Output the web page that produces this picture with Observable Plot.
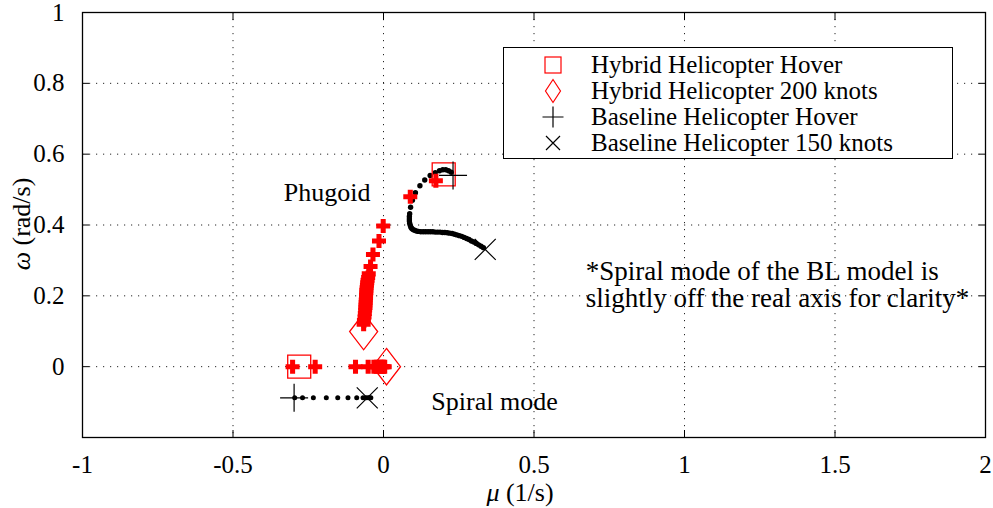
<!DOCTYPE html>
<html><head><meta charset="utf-8">
<script src="https://cdn.jsdelivr.net/npm/d3@7"></script>
<script src="https://cdn.jsdelivr.net/npm/@observablehq/plot@0.6"></script>
</head><body style="margin:0;background:#fff;">
<div id="wrap" style="position:relative;width:993px;height:508px;color:#000;font-family:'Liberation Serif';font-size:22px;"></div>
<script>
// ---- ticks ----
const xTicks = [-1, -0.5, 0, 0.5, 1, 1.5, 2];
const yTicks = [0, 0.2, 0.4, 0.6, 0.8, 1];
const xGrid = [-0.5, 0, 0.5, 1, 1.5];
const yGrid = [0, 0.2, 0.4, 0.6, 0.8];

// ---- hybrid helicopter root locus (red plus) [mu, omega] ----
const hybridPhugoid = [[0.174,0.525],[0.089,0.480],[-0.001,0.397],[-0.015,0.355],[-0.035,0.317],[-0.043,0.283],[-0.049,0.262],[-0.051,0.252],[-0.053,0.244],[-0.054,0.237],[-0.055,0.230],[-0.056,0.223],[-0.057,0.216],[-0.057,0.209],[-0.058,0.202],[-0.058,0.195],[-0.059,0.188],[-0.059,0.181],[-0.060,0.174],[-0.060,0.167],[-0.061,0.160],[-0.062,0.150],[-0.063,0.140],[-0.065,0.130],[-0.066,0.120]];
const hybridSpiral = [[-0.302,0],[-0.227,0],[-0.093,0],[-0.051,0],[-0.032,0],[-0.024,0],[-0.017,0],[-0.011,0],[-0.005,0],[0.000,0],[0.004,0]];

// ---- baseline helicopter root locus (black dots) ----
const baselinePhugoid = [[0.225,0.549],[0.216,0.553],[0.207,0.556],[0.197,0.556],[0.186,0.553],[0.172,0.548],[0.155,0.540],[0.137,0.527],[0.121,0.511],[0.106,0.491],[0.096,0.470],[0.090,0.450],[0.087,0.432],[0.086,0.424],[0.086,0.417],[0.086,0.411],[0.087,0.405],[0.089,0.399],[0.091,0.394],[0.094,0.390],[0.098,0.387],[0.103,0.385],[0.109,0.383],[0.116,0.382],[0.124,0.381],[0.132,0.381],[0.140,0.381],[0.148,0.381],[0.156,0.381],[0.164,0.381],[0.172,0.380],[0.180,0.380],[0.188,0.380],[0.196,0.379],[0.204,0.379],[0.212,0.378],[0.220,0.377],[0.228,0.376],[0.236,0.374],[0.244,0.372],[0.252,0.370],[0.260,0.368],[0.268,0.365],[0.276,0.362],[0.284,0.359],[0.292,0.355],[0.300,0.352],[0.308,0.348],[0.316,0.344],[0.324,0.340],[0.332,0.336]];
const baselineSpiral = [[-0.295,-0.088],[-0.269,-0.088],[-0.233,-0.088],[-0.190,-0.088],[-0.152,-0.088],[-0.118,-0.088],[-0.089,-0.088],[-0.068,-0.088],[-0.058,-0.088],[-0.051,-0.088],[-0.046,-0.088],[-0.042,-0.088]];

// ---- end-point markers ----
const hybridHover = [[0.200,0.543],[-0.280,0]];
const hybrid200 = [[-0.066,0.099],[0.010,0]];
const baselineHover = [[0.231,0.540],[-0.297,-0.088]];
const baseline150 = [[0.338,0.331],[-0.054,-0.088]];

// ---- legend & annotations ----
const legendLabels = ["Hybrid Helicopter Hover","Hybrid Helicopter 200 knots","Baseline Helicopter Hover","Baseline Helicopter 150 knots"];
const annotations = [
  {x:-0.331, y:0.491, text:"Phugoid"},
  {x:0.159, y:-0.098, text:"Spiral mode"}
];
const noteLines = [
  {x:0.672, y:0.269, text:"*Spiral mode of the BL model is"},
  {x:0.672, y:0.193, text:"slightly off the real axis for clarity*"}
];
const xLabel = "μ";
const xUnit = " (1/s)";
const yLabel = "ω";
const yUnit = " (rad/s)";

// ---- custom symbols (half-width = r) ----
const R = s => Math.sqrt(s / Math.PI);
const symSquare = {draw(c, s){const r=R(s); c.moveTo(-r,-r); c.lineTo(r,-r); c.lineTo(r,r); c.lineTo(-r,r); c.closePath();}};
const symDiamond = {draw(c, s){const r=R(s), h=r*1.3; c.moveTo(0,-h); c.lineTo(r,0); c.lineTo(0,h); c.lineTo(-r,0); c.closePath();}};
const symPlus = {draw(c, s){const r=R(s); c.moveTo(-r,0); c.lineTo(r,0); c.moveTo(0,-r); c.lineTo(0,r);}};
const symTimes = {draw(c, s){const r=R(s); c.moveTo(-r,-r); c.lineTo(r,r); c.moveTo(-r,r); c.lineTo(r,-r);}};
const symFat = {draw(c, s){const r=R(s), t=r*0.36; c.moveTo(-r,-t); c.lineTo(-t,-t); c.lineTo(-t,-r); c.lineTo(t,-r); c.lineTo(t,-t); c.lineTo(r,-t); c.lineTo(r,t); c.lineTo(t,t); c.lineTo(t,r); c.lineTo(-t,r); c.lineTo(-t,t); c.lineTo(-r,t); c.closePath();}};

const fmt = d => (d < 0 ? "-" : "") + Math.abs(d);
const gridStyle = {stroke:"black", strokeOpacity:0.85, strokeWidth:1, strokeDasharray:"1.2,5.8"};
const P = {x: d => d[0], y: d => d[1]};
const FONT = "Liberation Serif";
const BASE = 22; // rendered font size; larger sizes are reached by scaling

const chart = Plot.plot({
  width: 993, height: 508,
  marginLeft: 82, marginRight: 8, marginTop: 12, marginBottom: 71,
  x: {domain: [-1, 2]},
  y: {domain: [-0.2, 1]},
  style: {fontFamily: FONT, fontSize: "22px", background: "white", color: "black", overflow: "visible"},
  marks: [
    Plot.gridX(xGrid, gridStyle),
    Plot.gridY(yGrid, gridStyle),
    Plot.axisX(xTicks, {anchor:"bottom", tickSize:0, tickPadding:18, tickFormat:fmt, label:null, fontSize: 25, fontFamily: FONT}),
    Plot.axisY(yTicks, {anchor:"left", tickSize:0, tickPadding:18, tickFormat:fmt, label:null, fontSize: 25, fontFamily: FONT}),
    Plot.axisX(xTicks, {anchor:"bottom", tickSize:-7, tickFormat:()=>"", label:null}),
    Plot.axisX(xTicks, {anchor:"top", tickSize:-7, tickFormat:()=>"", label:null}),
    Plot.axisY(yTicks, {anchor:"left", tickSize:-7, tickFormat:()=>"", label:null}),
    Plot.axisY(yTicks, {anchor:"right", tickSize:-7, tickFormat:()=>"", label:null}),
    Plot.text(annotations, {x:"x", y:"y", text:"text", textAnchor:"start", fill:"black", fontSize: 26, fontFamily: FONT}),
    Plot.text(noteLines, {x:"x", y:"y", text:"text", textAnchor:"start", fill:"black", fontSize: 27, fontFamily: FONT}),
    Plot.dot(baselinePhugoid, {...P, r:2.7, fill:"black", stroke:null}),
    Plot.dot(baselineSpiral, {...P, r:2.5, fill:"black", stroke:null}),
    Plot.dot(hybridPhugoid, {...P, r:7, symbol:symFat, fill:"#ff0000", stroke:null}),
    Plot.dot(hybridSpiral, {...P, r:7, symbol:symFat, fill:"#ff0000", stroke:null}),
    Plot.dot(hybridHover, {...P, r:11.5, symbol:symSquare, fill:"none", stroke:"#ff0000", strokeWidth:1.3}),
    Plot.dot(hybrid200, {...P, r:14, symbol:symDiamond, fill:"none", stroke:"#ff0000", strokeWidth:1.3}),
    Plot.dot(baselineHover, {...P, r:14, symbol:symPlus, fill:"none", stroke:"black", strokeWidth:1.2}),
    Plot.dot(baseline150, {...P, r:10.5, symbol:symTimes, fill:"none", stroke:"black", strokeWidth:1.2}),
    Plot.frame({stroke:"black", strokeWidth:1.3})
  ]
});

const wrap = document.getElementById("wrap");
wrap.appendChild(chart);

// render every SVG text at BASE px and scale it about its anchor to the intended size
chart.querySelectorAll("text").forEach(t => {
  const fs = parseFloat(getComputedStyle(t).fontSize) || BASE;
  const k = fs / BASE;
  t.style.fontFamily = "'Liberation Serif'";
  t.style.fontSize = BASE + "px";
  let tr = t.getAttribute("transform");
  if (!tr) {
    const x = +(t.getAttribute("x") || 0), y = +(t.getAttribute("y") || 0);
    t.removeAttribute("x"); t.removeAttribute("y");
    tr = `translate(${x},${y})`;
  }
  if (Math.abs(k - 1) > 1e-3) tr += ` scale(${k})`;
  t.setAttribute("transform", tr);
});

function label(html, left, top, rot, size) {
  const d = document.createElement("div");
  d.innerHTML = html;
  d.style.position = "absolute";
  d.style.left = left + "px";
  d.style.top = top + "px";
  d.style.fontFamily = "'Liberation Serif'";
  d.style.fontSize = BASE + "px";
  d.style.lineHeight = "1";
  d.style.whiteSpace = "nowrap";
  d.style.transform = "translate(-50%,-50%)" + (rot ? " rotate(-90deg)" : "") + ` scale(${size / BASE})`;
  wrap.appendChild(d);
}
label(`<i>${xLabel}</i>${xUnit}`, 520, 493, false, 26);
label(`<i>${yLabel}</i>${yUnit}`, 22, 224, true, 26);

// legend
const legendSvgs = [
  `<rect x="7" y="5" width="16" height="16" fill="none" stroke="#ff0000" stroke-width="1.2"/>`,
  `<path d="M15,1.5 L22.5,13 L15,24.5 L7.5,13 Z" fill="none" stroke="#ff0000" stroke-width="1.2"/>`,
  `<path d="M4.5,13 H25.5 M15,2.5 V23.5" stroke="black" stroke-width="1.2"/>`,
  `<path d="M8,6 L22,20 M8,20 L22,6" stroke="black" stroke-width="1.2"/>`
];
const leg = document.createElement("div");
leg.style.cssText = "position:absolute;left:503px;top:47px;width:450px;height:112px;box-sizing:border-box;border:1px solid #000;background:#fff;";
legendLabels.forEach((t, i) => {
  const row = document.createElement("div");
  row.style.cssText = `position:absolute;left:0;top:${4 + i * 26}px;height:26px;width:100%;`;
  row.innerHTML = `<svg width="30" height="26" viewBox="0 0 30 26" style="position:absolute;left:34px;top:0">${legendSvgs[i]}</svg>`;
  const sp = document.createElement("span");
  sp.textContent = t;
  sp.style.position = "absolute";
  sp.style.left = "87px";
  sp.style.top = "0px";
  sp.style.fontFamily = "'Liberation Serif'";
  sp.style.fontSize = BASE + "px";
  sp.style.lineHeight = "26px";
  sp.style.whiteSpace = "nowrap";
  sp.style.transformOrigin = "0 50%";
  sp.style.transform = `scale(${25 / BASE})`;
  row.appendChild(sp);
  leg.appendChild(row);
});
wrap.appendChild(leg);
</script>
</body></html>
